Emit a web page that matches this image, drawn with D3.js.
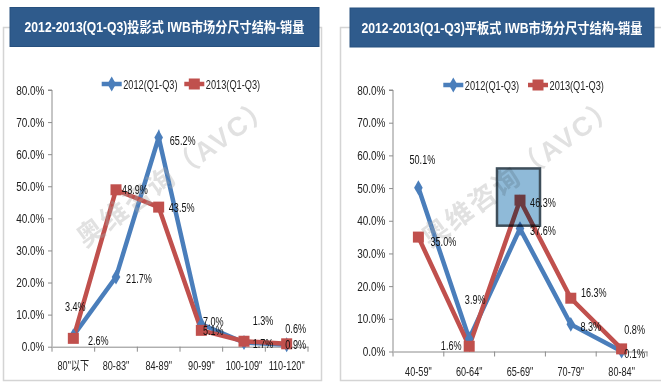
<!DOCTYPE html>
<html><head><meta charset="utf-8">
<script src="https://cdn.jsdelivr.net/npm/d3@7"></script>
<style>
html,body{margin:0;padding:0;background:#fff;}
svg{display:block;}
text{font-family:"Liberation Sans","Noto Sans CJK SC",sans-serif;}
</style></head>
<body>
<svg id="chart" width="661" height="382"></svg>
<script>
// ---------- DATA ----------
const seriesNames = ["2012(Q1-Q3)", "2013(Q1-Q3)"];
const titles = ["2012-2013(Q1-Q3)投影式 IWB市场分尺寸结构-销量", "2012-2013(Q1-Q3)平板式 IWB市场分尺寸结构-销量"];
const projCategories = ['80"以下', '80-83"', '84-89"', '90-99"', '100-109"', '110-120"'];
const proj2012 = [3.4, 21.7, 65.2, 7.0, 1.3, 0.6];
const proj2013 = [2.6, 48.9, 43.5, 5.1, 1.7, 0.9];
const flatCategories = ['40-59"', '60-64"', '65-69"', '70-79"', '80-84"'];
const flat2012 = [50.1, 3.9, 37.6, 8.3, 0.1];
const flat2013 = [35.0, 1.6, 46.3, 16.3, 0.8];
const yTicks = [0, 10, 20, 30, 40, 50, 60, 70, 80];
const watermarkText = "奥维咨询（AVC）";

// ---------- LAYOUT (positions/styles only) ----------
const blue = "#4A7EBB", red = "#C0504D";
const panels = [
  {title: titles[0], cats: projCategories, series: [proj2012, proj2013],
   frame: [3.5, 27.5, 318, 353], tbox: [10, 7.5, 309, 39], tLen: 280,
   x0: 52, x1: 308, yb: 346.7, yt: 90, labelGap: 20,
   legend: [[101.7, 84], [184.3, 84]],
   offs: [[[2,-29],[23,1],[24,2.5],[12,-2.5],[19,-22],[9,-16.5]],
          [[25,2],[19,0],[23,0],[12,0],[19,2],[9,1]]],
   wm: [175, 172]},
  {title: titles[1], cats: flatCategories, series: [flat2012, flat2013],
   frame: [340.5, 27.5, 340, 353], tbox: [350, 8, 304, 39], tLen: 281.6,
   x0: 393, x1: 647, yb: 351.5, yt: 90, labelGap: 22,
   legend: [[443.3, 85], [528, 85]],
   offs: [[[4,-28],[6,-39],[23,2],[20,2],[13,2]],
          [[25,4],[-18,-1],[23,2],[23,-5.5],[13,-20]]],
   wm: [520, 172],
   highlight: {cat: 2, lo: 38.5, hi: 56}}
];

const svg = d3.select("#chart");

// squeeze text horizontally by a factor using a transform (keeps text as real text)
function squeeze(sel, f) {
  sel.each(function () {
    const t = d3.select(this);
    const x = +t.attr("x") || 0, y = +t.attr("y") || 0;
    const prev = t.attr("transform") || "";
    t.attr("x", 0).attr("y", 0).attr("transform", `${prev} translate(${x},${y}) scale(${f},1)`);
  });
}
function fitWidth(sel, w) {
  sel.each(function () {
    const l = this.getComputedTextLength();
    squeeze(d3.select(this), w / l);
  });
}

function marker(g, i, x, y) {
  if (i === 0) {
    g.append("path").attr("d", d3.symbol().type(d3.symbolDiamond).size(64)())
      .attr("transform", `translate(${x},${y})`).attr("fill", blue);
  } else {
    g.append("rect").attr("x", x - 5.5).attr("y", y - 5.5).attr("width", 11).attr("height", 11).attr("fill", red);
  }
}

panels.forEach(p => {
  const g = svg.append("g");
  // frame
  g.append("rect").attr("x", p.frame[0]).attr("y", p.frame[1]).attr("width", p.frame[2]).attr("height", p.frame[3])
    .attr("fill", "none").attr("stroke", "#d4d4d4").attr("stroke-width", 1.5);
  // title box
  g.append("rect").attr("x", p.tbox[0]).attr("y", p.tbox[1]).attr("width", p.tbox[2]).attr("height", p.tbox[3])
    .attr("fill", "#2F5B8C").attr("stroke", "#27507e").attr("stroke-width", 1);
  g.append("text").attr("x", p.tbox[0] + p.tbox[2] / 2).attr("y", p.tbox[1] + p.tbox[3] / 2 + 0.5)
    .attr("text-anchor", "middle").attr("dominant-baseline", "central")
    .attr("fill", "#fff").attr("font-weight", "bold").attr("font-size", 14)
    .text(p.title).call(fitWidth, p.tLen);

  const x = d3.scaleBand().domain(p.cats).range([p.x0, p.x1]);
  const y = d3.scaleLinear().domain([0, 80]).range([p.yb, p.yt]);
  const cx = c => x(c) + x.bandwidth() / 2;

  // y axis
  const yAxis = g.append("g").attr("transform", `translate(${p.x0},0)`)
    .call(d3.axisLeft(y).tickValues(yTicks).tickSize(4).tickFormat(d => d.toFixed(1) + "%"));
  yAxis.select(".domain").attr("stroke", "#8c8c8c").attr("d", `M-4,${p.yt}H0V${p.yb}`);
  yAxis.selectAll(".tick line").attr("stroke", "#8c8c8c");
  yAxis.selectAll(".tick text").attr("x", -7.5).attr("font-size", 13).attr("fill", "#222")
    .attr("font-family", '"Liberation Sans",sans-serif').call(squeeze, 0.77);

  // x axis
  const xAxis = g.append("g").attr("transform", `translate(0,${p.yb})`)
    .call(d3.axisBottom(x).tickSize(0).tickPadding(p.labelGap - 6));
  xAxis.select(".domain").attr("stroke", "#8c8c8c");
  xAxis.selectAll(".tick text").attr("font-size", 12.5).attr("fill", "#222")
    .attr("font-family", '"Liberation Sans","Noto Sans CJK SC",sans-serif').call(squeeze, 0.73);
  const bounds = [p.x0].concat(p.cats.map(c => x(c) + x.bandwidth()));
  xAxis.selectAll(".bnd").data(bounds).enter().append("line")
    .attr("x1", d => d).attr("x2", d => d).attr("y1", 0).attr("y2", 5).attr("stroke", "#8c8c8c");

  // lines
  const line = d3.line().x((d, i) => cx(p.cats[i])).y(d => y(d));
  p.series.forEach((s, si) => {
    g.append("path").datum(s).attr("d", line).attr("fill", "none")
      .attr("stroke", si === 0 ? blue : red).attr("stroke-width", 4.5).attr("stroke-linejoin", "miter");
  });
  p.series.forEach((s, si) => {
    s.forEach((v, i) => marker(g, si, cx(p.cats[i]), y(v)));
  });

  // watermark
  g.append("text").attr("transform", `translate(${p.wm[0]},${p.wm[1]}) rotate(-36)`)
    .attr("text-anchor", "middle").attr("dominant-baseline", "central")
    .attr("font-family", '"Noto Sans CJK SC",sans-serif').attr("font-weight", "bold").attr("font-size", 27)
    .attr("fill", "#a8a8a8").attr("opacity", 0.34).attr("letter-spacing", 2)
    .text(watermarkText);

  // highlight box
  if (p.highlight) {
    const hc = cx(p.cats[p.highlight.cat]);
    g.append("rect").attr("x", hc - 23).attr("y", y(p.highlight.hi)).attr("width", 43)
      .attr("height", y(p.highlight.lo) - y(p.highlight.hi))
      .attr("fill", "#8FBAD8").attr("stroke", "#3E4E5A").attr("stroke-width", 2.5)
      .style("mix-blend-mode", "multiply");
  }

  // data labels
  p.series.forEach((s, si) => {
    s.forEach((v, i) => {
      const o = p.offs[si][i];
      g.append("text").attr("x", cx(p.cats[i]) + o[0]).attr("y", y(v) + o[1])
        .attr("text-anchor", "middle").attr("dominant-baseline", "central")
        .attr("font-size", 13).attr("fill", "#111")
        .text(v.toFixed(1) + "%").call(squeeze, 0.7);
    });
  });

  // legend
  p.legend.forEach((lp, si) => {
    g.append("line").attr("x1", lp[0]).attr("x2", lp[0] + 20).attr("y1", lp[1]).attr("y2", lp[1])
      .attr("stroke", si === 0 ? blue : red).attr("stroke-width", 4.5);
    marker(g, si, lp[0] + 10, lp[1]);
    g.append("text").attr("x", lp[0] + 21.5).attr("y", lp[1]).attr("dominant-baseline", "central")
      .attr("font-size", 13).attr("fill", "#222").text(seriesNames[si]).call(squeeze, 0.71);
  });
});
</script>
</body></html>
